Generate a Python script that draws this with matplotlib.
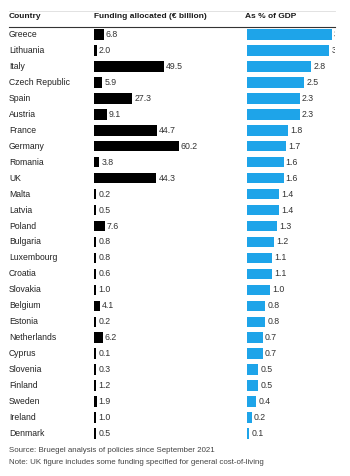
import numpy as np
import matplotlib
matplotlib.use("Agg")
import matplotlib.pyplot as plt
from matplotlib.lines import Line2D
from matplotlib.transforms import blended_transform_factory

plt.rcParams["font.family"] = ["Liberation Sans", "DejaVu Sans"]

countries = ["Greece", "Lithuania", "Italy", "Czech Republic", "Spain", "Austria",
             "France", "Germany", "Romania", "UK", "Malta", "Latvia", "Poland",
             "Bulgaria", "Luxembourg", "Croatia", "Slovakia", "Belgium", "Estonia",
             "Netherlands", "Cyprus", "Slovenia", "Finland", "Sweden", "Ireland", "Denmark"]
funding = [6.8, 2.0, 49.5, 5.9, 27.3, 9.1, 44.7, 60.2, 3.8, 44.3, 0.2, 0.5, 7.6,
           0.8, 0.8, 0.6, 1.0, 4.1, 0.2, 6.2, 0.1, 0.3, 1.2, 1.9, 1.0, 0.5]
gdp_pct = [3.7, 3.6, 2.8, 2.5, 2.3, 2.3, 1.8, 1.7, 1.6, 1.6, 1.4, 1.4, 1.3,
           1.2, 1.1, 1.1, 1.0, 0.8, 0.8, 0.7, 0.7, 0.5, 0.5, 0.4, 0.2, 0.1]
headers = ["Country", "Funding allocated (€ billion)", "As % of GDP"]
notes = ["Source: Bruegel analysis of policies since September 2021",
         "Note: UK figure includes some funding specified for general cost-of-living"]

W, H = 350, 476
fig = plt.figure(figsize=(W / 100, H / 100), dpi=100)
fig.patch.set_facecolor("white")


def fx(px):
    return px / W


def fy(py):
    return 1 - py / H


n = len(countries)
top_px, bot_px = 26.5, 441.5
y = np.arange(n)

# funding panel (thin bars get a minimum visible width, like the original)
ax1 = fig.add_axes([fx(94), fy(bot_px), fx(100), (bot_px - top_px) / H])
ax1.set_xlim(0, 100 / 1.41)
ax1.set_ylim(n - 0.5, -0.5)
drawn = np.maximum(funding, 1.5)
ax1.barh(y, drawn, height=0.66, color="black")
for i, v in enumerate(funding):
    ax1.annotate(f"{v:.1f}", (drawn[i], i), xytext=(1.5, 0), textcoords="offset points",
                 va="center", ha="left", fontsize=6.3, color="#333333")
ax1.axis("off")

# gdp panel, clipped at the right edge like the cropped source
ax2 = fig.add_axes([fx(247), fy(bot_px), fx(88), (bot_px - top_px) / H])
ax2.set_xlim(0, 88 / 22.9)
ax2.set_ylim(n - 0.5, -0.5)
ax2.barh(y, gdp_pct, height=0.66, color="#1ea4e9")
for i, v in enumerate(gdp_pct):
    ax2.annotate(f"{v:.1f}", (v, i), xytext=(1.5, 0), textcoords="offset points",
                 va="center", ha="left", fontsize=6.3, color="#333333",
                 annotation_clip=False, clip_on=True)
ax2.axis("off")

# country names: figure x, row y
name_tr = blended_transform_factory(fig.transFigure, ax1.transData)
for i, c in enumerate(countries):
    ax1.text(fx(9), i, c, transform=name_tr, fontsize=6.2,
             color="#222222", va="center", ha="left")

# headers
for x, h in zip([9, 94, 245], headers):
    fig.text(fx(x), fy(17), h, fontsize=6.0, fontweight="bold", color="#1a1a1a",
             va="center", ha="left")

fig.add_artist(Line2D([fx(9), fx(335)], [fy(10.5), fy(10.5)], color="#dddddd", lw=0.6))
fig.add_artist(Line2D([fx(9), fx(335)], [fy(26.5), fy(26.5)], color="#333333", lw=0.8))

fig.text(fx(9), fy(451), notes[0], fontsize=5.7, color="#444444", va="center", ha="left")
fig.text(fx(9), fy(462), notes[1], fontsize=5.7, color="#444444", va="center", ha="left")

fig.savefig("out.png", dpi=100)
